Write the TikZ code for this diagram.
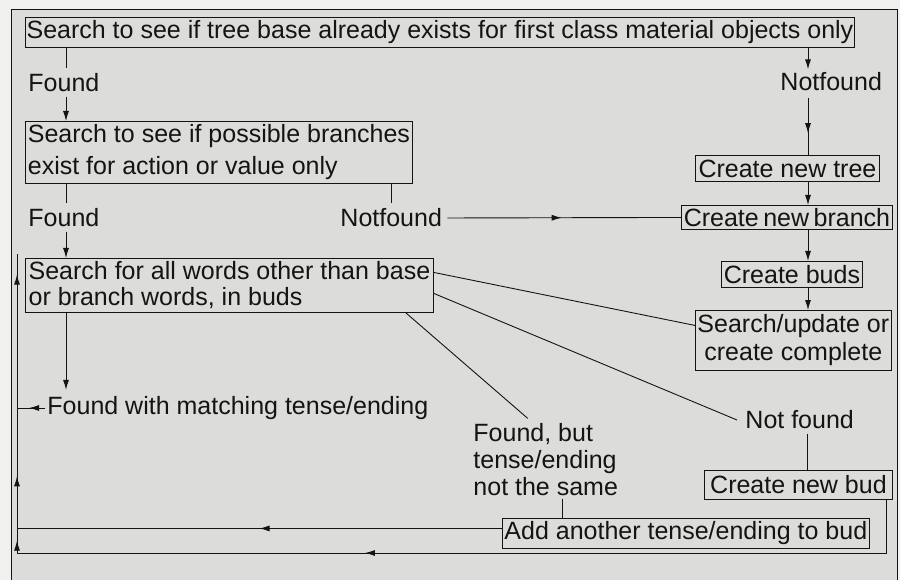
\documentclass[tikz,border=0pt]{standalone}
\usepackage{fontspec}
\setmainfont{Liberation Sans}
\usepackage{tikz}
\usetikzlibrary{arrows.meta,decorations.markings}
\definecolor{paper}{RGB}{240,240,238}
\definecolor{panel}{RGB}{220,220,218}
\definecolor{ink}{RGB}{20,20,20}
\tikzset{>={Latex[length=10pt,width=6pt]},
  midarr/.style={postaction={decorate,decoration={markings,mark=at position #1 with {\arrow{>}}}}}}

\begin{document}
\begin{tikzpicture}[x=1pt,y=-1pt,font=\fontsize{25}{28}\selectfont,ink,line width=0.9pt]
\tikzstyle{b} = [rectangle, draw, inner xsep=2pt, inner ysep=0pt, anchor=north west, align=left]
\tikzstyle{l} = [inner sep=0pt, anchor=west, align=left]
\useasboundingbox (0,0) rectangle (900,580);
\fill[paper] (0,0) rectangle (900,580);
\fill[panel] (11,9) rectangle (897,580);
\draw (11,580) -- (11,9) -- (897,9) -- (897,580);

\node[b, minimum width=829, minimum height=30, inner xsep=1pt] (base) at (25,17) {Search to see if tree base already exists for first class material objects only};
\node[b, minimum width=387, minimum height=62] (possib) at (25,121) {Search to see if possible branches\\[4pt]exist for action or value only};
\node[b, minimum width=408, minimum height=54] (words) at (25,258) {Search for all words other than base\\[-2pt]or branch words, in buds};
\node[b, minimum width=184, minimum height=26] (tree) at (695,155) {Create new tree};
\node[b, minimum width=211, minimum height=24, inner xsep=1pt] (branch) at (681,205) {\spaceskip=0.18em Create new branch};
\node[b, minimum width=141, minimum height=26] (buds) at (721,261) {Create buds};
\node[b, minimum width=193, minimum height=60, align=center] (update) at (695,310) {Search/update or\\create complete};
\node[b, minimum width=188, minimum height=29] (newbud) at (704,470) {Create new bud};
\node[b, minimum width=366, minimum height=30] (add) at (502,518) {Add another tense/ending to bud};

\node[l] (found1) at (28,83) {Found};
\node[l] (nf1) at (780,82) {Notfound};
\node[l] (found2) at (28,218) {Found};
\node[l] (nf2) at (340,218) {Notfound};
\node[l] (match) at (47,408) {Found with matching tense/ending};
\node[l] (nf3) at (745,420) {Not found};
\node[l] (fbut) at (473,460) {Found, but\\[-1pt]tense/ending\\[-1pt]not the same};

\coordinate (lf) at (66,0);
\coordinate (rt) at (808,0);
\coordinate (lp) at (17,0);
\coordinate (bot) at (17,553);
\coordinate (nfx) at ([xshift=8pt]nf3.south);
\coordinate (fbx) at ([xshift=17pt]fbut.south);
\coordinate (adw) at ([yshift=5pt]add.west);
\coordinate (nbx) at ([xshift=-6pt]newbud.south east);

\draw (base.south -| lf) -- ([yshift=5pt]found1.north -| lf);
\draw[->] ([yshift=-4pt]found1.south -| lf) -- (possib.north -| lf);
\draw[->] (base.south -| rt) -- ([yshift=3pt]nf1.north -| rt);
\draw[midarr=0.62] ([yshift=-6pt]nf1.south -| rt) -- (tree.north -| rt);
\draw[->] (tree.south -| rt) -- (branch.north -| rt);
\draw[->] (branch.south -| rt) -- (buds.north -| rt);
\draw[->] (buds.south -| rt) -- (update.north -| rt);
\draw (possib.south -| lf) -- ([yshift=5pt]found2.north -| lf);
\draw[->] ([yshift=-4pt]found2.south -| lf) -- (words.north -| lf);
\draw (possib.south -| nf2) -- ([yshift=5pt]nf2.north);
\draw[midarr=0.5, shorten <=5pt] (nf2.east) -- (branch.west);
\draw[->] (words.south -| lf) -- ([yshift=6pt]match.north -| lf);
\draw[midarr=0.6, shorten <=2pt] (match.west) -- (match.west -| lp);
\draw ([yshift=13pt]words.east) -- ([yshift=15pt]update.west);
\draw ([yshift=-8pt]words.east) -- ([xshift=-8pt]nf3.west);
\draw ([xshift=-28pt]words.south east) -- ([xshift=-18pt,yshift=5pt]fbut.north);
\draw ([yshift=-4pt]nfx) -- (newbud.north -| nfx);
\draw ([yshift=-2pt]fbx) -- (add.north -| fbx);

\draw[midarr=0.5] (adw) -- (lp |- adw);
\draw (nbx) -- (nbx |- bot);
\draw[midarr=0.6] (nbx |- bot) -- (bot);
\draw[midarr=0.5] (bot) -- (lp |- adw);
\draw[midarr=0.19, midarr=0.925] (lp |- adw) -- ([yshift=4pt]lp |- words.north);
\end{tikzpicture}
\end{document}
